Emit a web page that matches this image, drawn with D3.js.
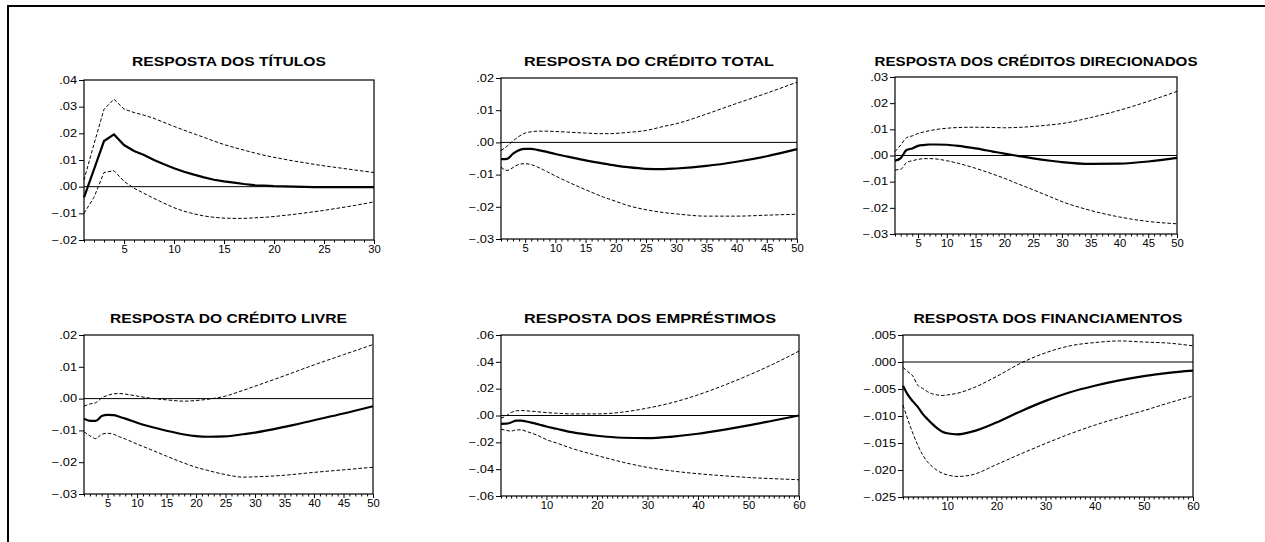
<!DOCTYPE html>
<html lang="pt">
<head>
<meta charset="UTF-8"/>
<title>Respostas</title>
<script src="https://d3js.org/d3.v7.min.js"></script>
<style>
    body { margin: 0; background-color: white; }
    text { font-family: "Liberation Sans", Arial, sans-serif; }
</style>
</head>
<body>
<script>
// horizons (x categories)
var h30 = [1,2,3,4,5,6,7,8,9,10,11,12,13,14,15,16,17,18,19,20,21,22,23,24,25,26,27,28,29,30];
var h50 = [1,2,3,4,5,6,7,8,10,12,15,18,20,22,25,28,30,35,40,45,50];
var h60 = [1,2,3,4,5,6,7,8,9,10,12,15,20,25,30,35,40,45,50,55,60];

// tick labels
var xLab30 = [5,10,15,20,25,30];
var xLab50 = [5,10,15,20,25,30,35,40,45,50];
var xLab60 = [10,20,30,40,50,60];
var yTicksTitulos = [-0.02,-0.01,0,0.01,0.02,0.03,0.04];
var yTicksTotal = [-0.03,-0.02,-0.01,0,0.01,0.02];
var yTicksDirec = [-0.03,-0.02,-0.01,0,0.01,0.02,0.03];
var yTicksLivre = [-0.03,-0.02,-0.01,0,0.01,0.02];
var yTicksEmprest = [-0.06,-0.04,-0.02,0,0.02,0.04,0.06];
var yTicksFinanc = [-0.025,-0.020,-0.015,-0.010,-0.005,0,0.005];

// RESPOSTA DOS TÍTULOS
var titResp = [-0.0040,0.0065,0.0171,0.0196,0.0156,0.0134,0.0119,0.0100,0.0084,0.0069,0.0056,0.0045,0.0035,0.0026,0.0020,0.0015,0.0010,0.0006,0.0004,0.0002,0.0001,0.0000,-0.0001,-0.0002,-0.0002,-0.0002,-0.0002,-0.0002,-0.0002,-0.0002];
var titUp = [0.0025,0.0160,0.0290,0.0328,0.0291,0.0278,0.0268,0.0256,0.0241,0.0226,0.0212,0.0198,0.0185,0.0171,0.0158,0.0147,0.0137,0.0127,0.0118,0.0110,0.0103,0.0096,0.0090,0.0084,0.0078,0.0073,0.0068,0.0063,0.0058,0.0053];
var titLo = [-0.0100,-0.0040,0.0053,0.0060,0.0020,-0.0006,-0.0025,-0.0044,-0.0062,-0.0079,-0.0092,-0.0102,-0.0110,-0.0115,-0.0118,-0.0119,-0.0119,-0.0117,-0.0115,-0.0112,-0.0108,-0.0104,-0.0099,-0.0094,-0.0089,-0.0083,-0.0077,-0.0071,-0.0064,-0.0057];

// RESPOSTA DO CRÉDITO TOTAL
var totResp = [-0.0052,-0.0051,-0.0035,-0.0024,-0.0020,-0.0020,-0.0023,-0.0027,-0.0036,-0.0044,-0.0056,-0.0066,-0.0072,-0.0077,-0.0082,-0.0083,-0.0081,-0.0073,-0.0060,-0.0043,-0.0021];
var totUp = [-0.0025,-0.0012,0.0005,0.0019,0.0029,0.0033,0.0035,0.0035,0.0034,0.0032,0.0029,0.0027,0.0028,0.0031,0.0037,0.0050,0.0058,0.0088,0.0121,0.0153,0.0187];
var totLo = [-0.0077,-0.0087,-0.0078,-0.0068,-0.0066,-0.0069,-0.0076,-0.0085,-0.0104,-0.0122,-0.0147,-0.0170,-0.0183,-0.0196,-0.0209,-0.0218,-0.0222,-0.0229,-0.0229,-0.0226,-0.0223];

// RESPOSTA DOS CRÉDITOS DIRECIONADOS
var dirResp = [-0.0020,-0.0010,0.0021,0.0027,0.0037,0.0040,0.0042,0.0042,0.0041,0.0037,0.0027,0.0015,0.0007,0.0000,-0.0011,-0.0020,-0.0025,-0.0032,-0.0031,-0.0023,-0.0009];
var dirUp = [0.0015,0.0040,0.0068,0.0075,0.0084,0.0090,0.0095,0.0099,0.0104,0.0107,0.0108,0.0107,0.0106,0.0107,0.0111,0.0117,0.0122,0.0145,0.0173,0.0207,0.0245];
var dirLo = [-0.0055,-0.0053,-0.0027,-0.0020,-0.0015,-0.0012,-0.0012,-0.0013,-0.0020,-0.0030,-0.0049,-0.0071,-0.0087,-0.0105,-0.0131,-0.0158,-0.0176,-0.0210,-0.0235,-0.0252,-0.0261];

// RESPOSTA DO CRÉDITO LIVRE
var livResp = [-0.0063,-0.0070,-0.0070,-0.0055,-0.0051,-0.0052,-0.0057,-0.0063,-0.0076,-0.0087,-0.0101,-0.0113,-0.0118,-0.0120,-0.0119,-0.0112,-0.0107,-0.0089,-0.0068,-0.0047,-0.0024];
var livUp = [-0.0024,-0.0017,-0.0013,0.0002,0.0010,0.0015,0.0016,0.0014,0.0008,0.0002,-0.0004,-0.0008,-0.0006,-0.0002,0.0008,0.0026,0.0039,0.0072,0.0106,0.0138,0.0170];
var livLo = [-0.0104,-0.0117,-0.0126,-0.0112,-0.0109,-0.0112,-0.0120,-0.0127,-0.0143,-0.0158,-0.0181,-0.0203,-0.0216,-0.0226,-0.0239,-0.0247,-0.0246,-0.0241,-0.0232,-0.0224,-0.0216];

// RESPOSTA DOS EMPRÉSTIMOS
var empResp = [-0.0062,-0.0061,-0.0052,-0.0038,-0.0038,-0.0045,-0.0053,-0.0062,-0.0072,-0.0082,-0.0099,-0.0124,-0.0151,-0.0166,-0.0169,-0.0157,-0.0136,-0.0107,-0.0074,-0.0037,0.0000];
var empUp = [-0.0020,-0.0003,0.0022,0.0035,0.0037,0.0035,0.0032,0.0029,0.0025,0.0022,0.0017,0.0012,0.0012,0.0025,0.0055,0.0097,0.0154,0.0223,0.0300,0.0385,0.0480];
var empLo = [-0.0102,-0.0110,-0.0117,-0.0107,-0.0107,-0.0118,-0.0131,-0.0144,-0.0162,-0.0180,-0.0205,-0.0245,-0.0298,-0.0347,-0.0387,-0.0414,-0.0434,-0.0449,-0.0462,-0.0471,-0.0479];

// RESPOSTA DOS FINANCIAMENTOS
var finResp = [-0.0044,-0.0061,-0.0073,-0.0083,-0.0096,-0.0106,-0.0115,-0.0123,-0.0129,-0.0132,-0.0134,-0.0129,-0.0112,-0.0091,-0.0072,-0.0056,-0.0044,-0.0034,-0.0026,-0.0020,-0.0016];
var finUp = [-0.0010,-0.0018,-0.0026,-0.0043,-0.0049,-0.0055,-0.0059,-0.0061,-0.0062,-0.0061,-0.0058,-0.0049,-0.0027,-0.0002,0.0017,0.0030,0.0036,0.0039,0.0037,0.0035,0.0030];
var finLo = [-0.0080,-0.0107,-0.0132,-0.0154,-0.0172,-0.0185,-0.0194,-0.0201,-0.0206,-0.0209,-0.0212,-0.0209,-0.0190,-0.0170,-0.0151,-0.0133,-0.0117,-0.0103,-0.0090,-0.0076,-0.0063];

var w = 1265;
var h = 542;

var svg = d3.select("body")
            .append("svg")
            .attr("width", w)
            .attr("height", h);

// outer frame
svg.append("rect")
    .attr("x", 8)
    .attr("y", 6)
    .attr("width", w)
    .attr("height", h)
    .attr("fill", "none")
    .attr("stroke", "black")
    .attr("stroke-width", 2);

var panels = [
    {title: "RESPOSTA DOS TÍTULOS", titleW: 194, titleY: 66, left: 84, right: 374, top: 80, bottom: 240,
     yDom: [-0.02, 0.04], yTicks: yTicksTitulos, dec: 2, hor: h30, xLab: xLab30, resp: titResp, up: titUp, lo: titLo, curve: d3.curveLinear},
    {title: "RESPOSTA DO CRÉDITO TOTAL", titleW: 250, titleY: 66, left: 501, right: 797, top: 78, bottom: 239,
     yDom: [-0.03, 0.02], yTicks: yTicksTotal, dec: 2, hor: h50, xLab: xLab50, resp: totResp, up: totUp, lo: totLo, curve: d3.curveMonotoneX},
    {title: "RESPOSTA DOS CRÉDITOS DIRECIONADOS", titleW: 323, titleY: 66, left: 895, right: 1177, top: 77, bottom: 234,
     yDom: [-0.03, 0.03], yTicks: yTicksDirec, dec: 2, hor: h50, xLab: xLab50, resp: dirResp, up: dirUp, lo: dirLo, curve: d3.curveMonotoneX},
    {title: "RESPOSTA DO CRÉDITO LIVRE", titleW: 237, titleY: 323, left: 84, right: 373, top: 335, bottom: 494,
     yDom: [-0.03, 0.02], yTicks: yTicksLivre, dec: 2, hor: h50, xLab: xLab50, resp: livResp, up: livUp, lo: livLo, curve: d3.curveMonotoneX},
    {title: "RESPOSTA DOS EMPRÉSTIMOS", titleW: 252, titleY: 323, left: 501, right: 799, top: 335, bottom: 496,
     yDom: [-0.06, 0.06], yTicks: yTicksEmprest, dec: 2, hor: h60, xLab: xLab60, resp: empResp, up: empUp, lo: empLo, curve: d3.curveMonotoneX},
    {title: "RESPOSTA DOS FINANCIAMENTOS", titleW: 269, titleY: 323, left: 903, right: 1193, top: 335, bottom: 497,
     yDom: [-0.025, 0.005], yTicks: yTicksFinanc, dec: 3, hor: h60, xLab: xLab60, resp: finResp, up: finUp, lo: finLo, curve: d3.curveMonotoneX}
];

panels.forEach(function(p){
    var hEnd = p.hor[p.hor.length - 1];
    var x = d3.scaleLinear().domain([1, hEnd]).range([p.left, p.right]);
    var y = d3.scaleLinear().domain(p.yDom).range([p.bottom, p.top]);
    var g = svg.append("g");

    g.append("text")
        .attr("x", (p.left + p.right) / 2)
        .attr("y", p.titleY)
        .attr("text-anchor", "middle")
        .attr("font-weight", "bold")
        .attr("font-size", 13)
        .attr("textLength", p.titleW)
        .attr("lengthAdjust", "spacingAndGlyphs")
        .text(p.title);

    // y axis
    var fmt = d3.format("." + p.dec + "f");
    var yAxis = d3.axisLeft(y)
        .tickValues(p.yTicks)
        .tickSize(5)
        .tickSizeOuter(0)
        .tickFormat(function(d){ return fmt(d).replace("0.", "."); });
    var ya = g.append("g")
        .attr("transform", "translate(" + p.left + ",0)")
        .call(yAxis);
    ya.select(".domain").remove();
    ya.selectAll("text")
        .attr("font-size", 10)
        .attr("x", -7)
        .each(function(){
            var l = this.getComputedTextLength();
            d3.select(this).attr("textLength", l * 1.28).attr("lengthAdjust", "spacingAndGlyphs");
        });

    // x axis, a tick at every horizon
    var allH = d3.range(1, hEnd + 1);
    var xAxis = d3.axisBottom(x)
        .tickValues(allH)
        .tickSize(2.5)
        .tickSizeOuter(0)
        .tickFormat(function(d){ return p.xLab.indexOf(d) >= 0 ? d : ""; });
    var xa = g.append("g")
        .attr("transform", "translate(0," + p.bottom + ")")
        .call(xAxis);
    xa.select(".domain").remove();
    xa.selectAll(".tick")
        .filter(function(d){ return p.xLab.indexOf(d) >= 0; })
        .select("line")
        .attr("y2", 4);
    xa.selectAll("text")
        .attr("font-size", 10)
        .attr("y", 6)
        .each(function(){
            var l = this.getComputedTextLength();
            if (l > 0) d3.select(this).attr("textLength", l * 1.12).attr("lengthAdjust", "spacingAndGlyphs");
        });

    // frame of plot
    g.append("rect")
        .attr("x", p.left)
        .attr("y", p.top)
        .attr("width", p.right - p.left)
        .attr("height", p.bottom - p.top)
        .attr("fill", "none")
        .attr("stroke", "black")
        .attr("stroke-width", 1.2);

    // zero line
    g.append("line")
        .attr("x1", p.left)
        .attr("x2", p.right)
        .attr("y1", y(0))
        .attr("y2", y(0))
        .attr("stroke", "black")
        .attr("stroke-width", 1);

    var line = d3.line()
        .x(function(d, i){ return x(p.hor[i]); })
        .y(function(d){ return y(d); })
        .curve(p.curve);

    g.append("path")
        .attr("d", line(p.up))
        .attr("fill", "none")
        .attr("stroke", "black")
        .attr("stroke-width", 1)
        .attr("stroke-dasharray", "3.5,2");

    g.append("path")
        .attr("d", line(p.lo))
        .attr("fill", "none")
        .attr("stroke", "black")
        .attr("stroke-width", 1)
        .attr("stroke-dasharray", "3.5,2");

    g.append("path")
        .attr("d", line(p.resp))
        .attr("fill", "none")
        .attr("stroke", "black")
        .attr("stroke-width", 2.2);
});
</script>
</body>
</html>
